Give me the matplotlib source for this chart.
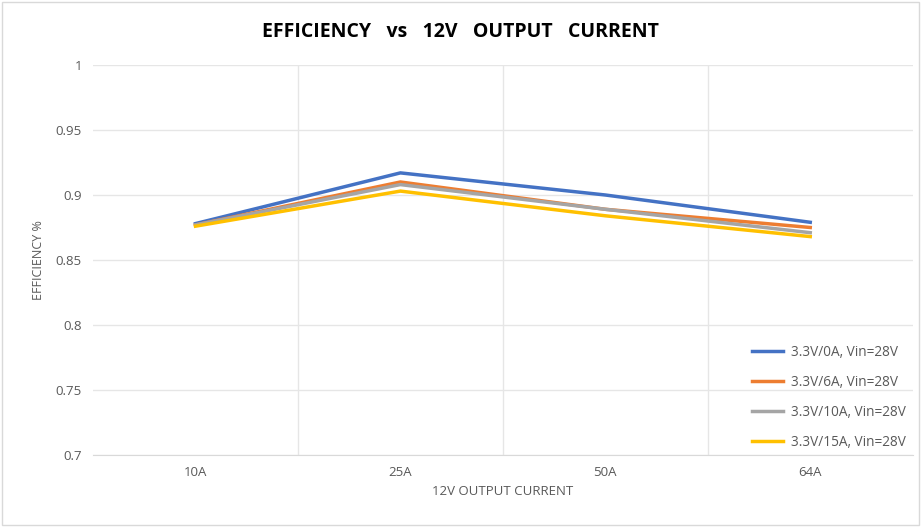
import matplotlib.pyplot as plt
import numpy as np

# Data
categories = ['10A', '25A', '50A', '64A']
eff_0a = [0.878, 0.917, 0.900, 0.879]
eff_6a = [0.877, 0.910, 0.889, 0.875]
eff_10a = [0.877, 0.908, 0.889, 0.871]
eff_15a = [0.876, 0.903, 0.884, 0.868]

series = [
    (eff_0a, '#4472C4', '3.3V/0A, Vin=28V'),
    (eff_6a, '#ED7D31', '3.3V/6A, Vin=28V'),
    (eff_10a, '#A5A5A5', '3.3V/10A, Vin=28V'),
    (eff_15a, '#FFC000', '3.3V/15A, Vin=28V'),
]

plt.rcParams['font.family'] = ['Open Sans', 'DejaVu Sans']

fig = plt.figure(figsize=(9.21, 5.27), dpi=100)
ax = fig.add_axes([0.101, 0.1366, 0.890, 0.7401])

x = np.arange(len(categories))
for vals, color, label in series:
    ax.plot(x, vals, color=color, linewidth=2.5, label=label, solid_joinstyle='miter')

ax.set_xlim(-0.5, len(categories) - 0.5)
ax.set_ylim(0.7, 1.0)
ax.set_yticks(np.arange(0.7, 1.001, 0.05))
ax.set_yticklabels(['0.7', '0.75', '0.8', '0.85', '0.9', '0.95', '1'])
ax.set_xticks(x)
ax.set_xticklabels(categories)

# gridlines: horizontal at ticks, vertical between categories
ax.set_xticks(np.arange(0.5, len(categories) - 0.5, 1), minor=True)
ax.grid(axis='y', color='#E6E6E6', linewidth=1)
ax.grid(axis='x', which='minor', color='#E6E6E6', linewidth=1)
ax.set_axisbelow(True)

for side in ['top', 'right', 'left']:
    ax.spines[side].set_visible(False)
ax.spines['bottom'].set_color('#D9D9D9')
ax.tick_params(axis='both', which='both', length=0, colors='#595959', labelsize=9.5, pad=8)

ax.set_xlabel('12V OUTPUT CURRENT', fontsize=9.5, color='#595959', labelpad=4)
ax.set_ylabel('EFFICIENCY %', fontsize=9, color='#595959', labelpad=8)

fig.text(0.5, 0.94, 'EFFICIENCY   vs   12V   OUTPUT   CURRENT', ha='center', va='center',
         fontsize=14, fontweight='bold', color='#000000')

ax.legend(loc='lower right', frameon=False, fontsize=9.8, labelcolor='#595959',
          handlelength=2.3, handletextpad=0.6, labelspacing=1.1,
          bbox_to_anchor=(1.007, -0.018))

# outer chart border
fig.patches.append(plt.Rectangle((0.002, 0.003), 0.996, 0.994, transform=fig.transFigure,
                                 fill=False, edgecolor='#D9D9D9', linewidth=1))

fig.savefig('out.png', dpi=100)
